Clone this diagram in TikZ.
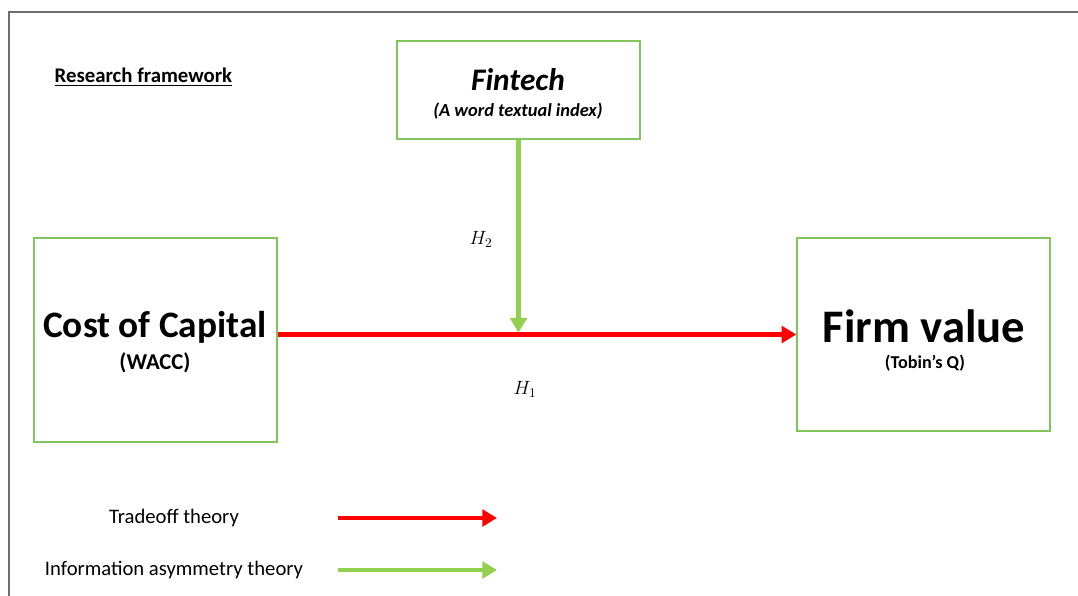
\documentclass[tikz,border=0pt]{standalone}
\usepackage{fontspec}
\setmainfont{Carlito}
\usepackage{amsmath}
\usetikzlibrary{arrows.meta,positioning,calc}

\definecolor{boxgreen}{RGB}{132,196,92}
\definecolor{lightgreen}{RGB}{146,208,80}
\definecolor{framegray}{RGB}{110,110,110}

\begin{document}
\begin{tikzpicture}[x=0.75pt,y=-0.75pt,
                    box/.style={draw=boxgreen,line width=1.1pt,inner sep=0pt},
                    tradeoff/.style={draw=red,line width=3.7pt,-{Triangle[length=11pt,width=12.5pt]}},
                    infoasym/.style={draw=lightgreen,line width=3.7pt,-{Triangle[length=11pt,width=12.5pt]}},
                    hyp/.style={font=\fontsize{14.4}{17}\selectfont},
                    legend/.style={font=\fontsize{15.5}{17}\selectfont}]

  \useasboundingbox (0,0) rectangle (1078,596);
  % frame round the page
  \draw[framegray,line width=1.5pt] (9,596) -- (9,12) -- (1078,12);

  \node[anchor=west,font=\bfseries\fontsize{15.6}{17}\selectfont] (title) at (50,77) {\underline{Research framework}};

  % boxes
  \node[box,minimum width=243*0.75pt,minimum height=98*0.75pt] (fintech) at (518.5,90) {};
  \node[box,minimum width=243*0.75pt,minimum height=204*0.75pt] (cost) at (155.5,340) {};
  \node[box,minimum width=253*0.75pt,minimum height=193*0.75pt] (firm) at (923.5,334.5) {};

  \node[font=\bfseries\itshape\fontsize{23.5}{25}\selectfont] (fintechname) at (518,80) {Fintech};
  \node[font=\bfseries\itshape\fontsize{13.8}{15}\selectfont] (fintechsub) at (518,111) {(A word textual index)};
  \node[font=\bfseries\fontsize{28}{30}\selectfont] (costname) at (155,327) {Cost of Capital};
  \node[font=\bfseries\fontsize{17}{19}\selectfont] (costsub) at (155,363) {(WACC)};
  \node[font=\bfseries\fontsize{35}{37}\selectfont] (firmname) at (924,326) {Firm value};
  \node[font=\bfseries\fontsize{13.6}{15}\selectfont] (firmsub) at (925,363) {(Tobin’s Q)};

  % hypotheses
  \coordinate (meet) at (fintech.south |- firm.west);
  \draw[tradeoff] (cost.east |- firm.west) -- (firm.west);
  \draw[infoasym] (fintech.south) -- ($(meet)+(0,-2)$);
  \node[hyp] (h2) at (481,239) {\(H_2\)};
  \node[hyp] (h1) at (525,389) {\(H_1\)};

  % legend
  \node[legend] (trade) at (174,518) {Tradeoff theory};
  \node[legend] (info) at (174,570) {Information asymmetry theory};
  \coordinate (tradeA) at (338,518);
  \coordinate (tradeB) at (497,518);
  \coordinate (infoA) at (338,570);
  \coordinate (infoB) at (497,570);
  \draw[tradeoff] (tradeA) -- (tradeB);
  \draw[infoasym] (infoA) -- (infoB);

\end{tikzpicture}
\end{document}
